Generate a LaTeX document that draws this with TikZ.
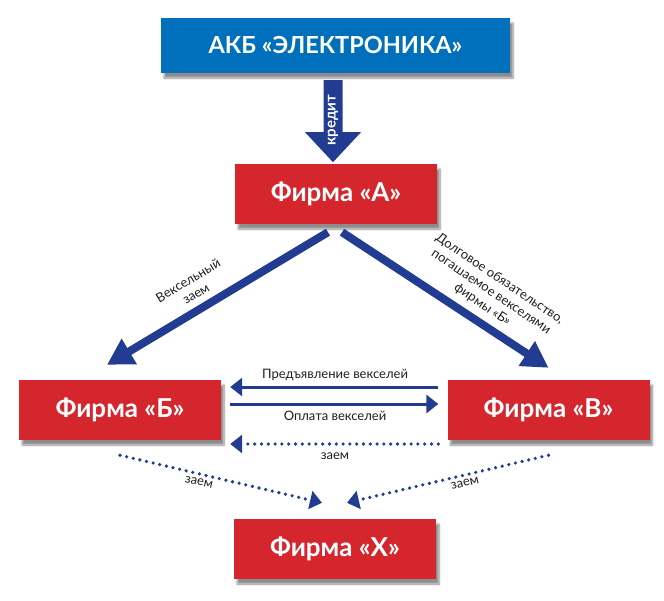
\documentclass[tikz,border=0pt]{standalone}
\usepackage{fontspec}
\setmainfont{Lato}
\usetikzlibrary{arrows.meta,calc,shadows,shadows.blur}
\definecolor{boxblue}{RGB}{0,112,188}
\definecolor{boxred}{RGB}{214,38,45}
\definecolor{arrblue}{RGB}{33,60,145}
\definecolor{txtgray}{RGB}{30,30,30}
\tikzset{
  firmbox/.style={rectangle, fill=boxred, text=white, minimum width=202pt, minimum height=60pt,
    inner sep=0pt, font=\fontsize{26}{28}\selectfont\bfseries,
    blur shadow={shadow xshift=3pt, shadow yshift=-5pt, shadow blur steps=8, shadow opacity=45}},
  bankbox/.style={firmbox, fill=boxblue, minimum width=349pt, minimum height=55pt,
    font=\fontsize{23.5}{26}\selectfont\bfseries},
  fatarrow/.style={draw=arrblue, line width=8pt, -{Triangle[length=26pt,width=28pt]}},
  thinarrow/.style={draw=arrblue, line width=3pt, -{Triangle[length=12pt,width=18pt]}},
  dotarrow/.style={draw=arrblue, line width=3.6pt, line cap=round, dash pattern=on 0pt off 6.8pt,
    -{Triangle[length=12pt,width=18pt]}},
  lbl/.style={text=txtgray, font=\fontsize{13}{15.5}\selectfont, inner sep=0pt, align=center},
}
\begin{document}
\begin{tikzpicture}[x=1pt,y=-1pt]
\useasboundingbox (0,0) rectangle (664,600);
\node[bankbox] (akb) at (335.5,45.5) {АКБ «ЭЛЕКТРОНИКА»};
\node[firmbox] (a) at (336,194) {Фирма «А»};
\node[firmbox] (b) at (120,410) {Фирма «Б»};
\node[firmbox] (v) at (548.5,410) {Фирма «В»};
\node[firmbox] (x) at (335,549) {Фирма «Х»};
% credit arrow
\coordinate (k) at ($(akb.south)+(-2.5,0)$);
\fill[arrblue] ($(k)+(-9.5,7)$) -- ($(k)+(9.5,7)$) -- ($(k)+(9.5,59)$) -- ($(k)+(28,59)$)
  -- ($(k)+(0,89)$) -- ($(k)+(-28,59)$) -- ($(k)+(-9.5,59)$) -- cycle;
\node[rotate=90, text=white, font=\fontsize{15}{16}\selectfont\bfseries, inner sep=0pt] (kred) at ($(k)+(0,47)$) {кредит};
% diagonal arrows
\draw[fatarrow] ([xshift=-8pt,yshift=-8pt]a.south) -- ([xshift=-13pt,yshift=15pt]b.north);
\draw[fatarrow] ([xshift=6pt,yshift=-8pt]a.south) -- ([yshift=12pt]v.north);
\node[lbl, rotate=31] (l1) at (192,287) {Вексельный\\заем};
\node[lbl, rotate=-34] (l2) at (491,292) {Долговое обязательство,\\погашаемое векселями\\фирмы «Б»};
% horizontal arrows
\draw[thinarrow] ([xshift=-9pt,yshift=23pt]v.west) -- ([xshift=9pt,yshift=23pt]b.east);
\draw[thinarrow] ([xshift=9pt,yshift=6pt]b.east) -- ([xshift=-9pt,yshift=6pt]v.west);
\draw[dotarrow] ([xshift=-9pt,yshift=-34pt]v.west) -- ([xshift=9pt,yshift=-34pt]b.east);
\node[lbl] (l3) at (335,375) {Предъявление векселей};
\node[lbl] (l4) at (335,416) {Оплата векселей};
\node[lbl] (l5) at (335,456) {заем};
% loans to X
\draw[dotarrow] ([yshift=-15pt]b.south) -- ([xshift=-13pt,yshift=16pt]x.north);
\draw[dotarrow] ([yshift=-15pt]v.south) -- ([xshift=12pt,yshift=16pt]x.north);
\node[lbl, rotate=-13] (l6) at (199,482) {заем};
\node[lbl, rotate=13] (l7) at (465,483) {заем};
\end{tikzpicture}
\end{document}
